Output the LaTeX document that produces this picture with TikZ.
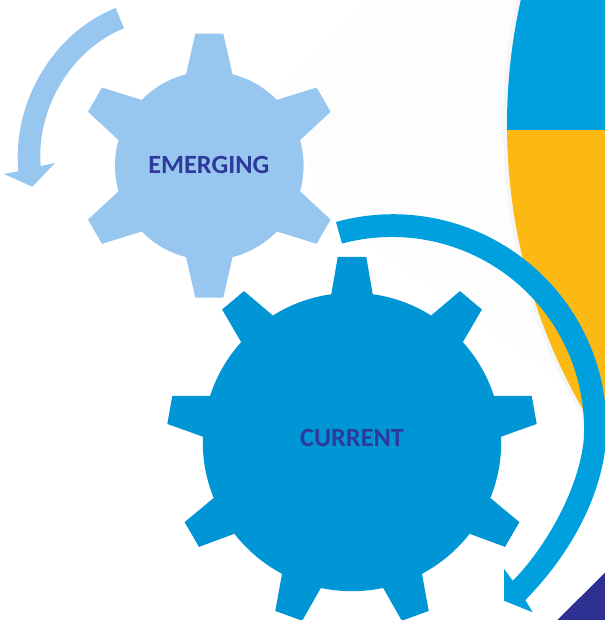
\documentclass[tikz,border=0pt]{standalone}
\usepackage{fontspec}
\setmainfont{Carlito}
\definecolor{lightgear}{HTML}{97C6EF}
\definecolor{darkgear}{HTML}{0095D5}
\definecolor{bluearrow}{HTML}{00A0DF}
\definecolor{yellowdisc}{HTML}{FDB913}
\definecolor{navy}{HTML}{2E3192}
\definecolor{labelblue}{HTML}{2E3A9B}
\definecolor{faintgrey}{HTML}{FDFDFD}
\definecolor{halogrey}{HTML}{F6F6F6}

\begin{document}
\begin{tikzpicture}[
    x=0.75pt, y=0.75pt,
    emergingbody/.style={circle, draw=none, fill=lightgear, inner sep=0pt, minimum size=141.45pt},
    currentbody/.style={circle, draw=none, fill=darkgear, inner sep=0pt, minimum size=223.8pt},
    gearlabel/.style={rectangle, draw=none, inner sep=0pt, text=labelblue, font=\bfseries\fontsize{19.7}{22}\selectfont},
    emergingtooth/.style={fill=lightgear, shift={(209.3,454.3)}},
    currenttooth/.style={fill=darkgear, shift={(352,178)}}
]

\useasboundingbox (0,0) rectangle (605,620);
\clip (0,0) rectangle (605,620);

\fill [faintgrey] (370,620) -- (275,523) -- (330,410) -- (367,378) -- (560,240) -- (605,240) -- (605,620) -- cycle;
\draw [halogrey, line width=6pt] (1077,495) circle (570);
\begin{scope}
    \clip (1077,495) circle (570);
    \fill [bluearrow] (500,490) rectangle (605,620);
    \fill [yellowdisc] (500,0) rectangle (605,490);
\end{scope}
\fill [navy] (557.3,0) -- (605,47.3) -- (605,0) -- cycle;

\foreach \a in {0,60,...,300}
    \fill [emergingtooth, rotate=\a] (-23.3,91) -- (-14,132) -- (14,132) -- (23.3,91) -- cycle;
\node [emergingbody] (emerging) at (209.3,454.3) {};
\node [gearlabel] (emerginglabel) at (208.8,455) {EMERGING};

\foreach \a in {0,40,...,320}
    \fill [currenttooth, rotate=\a] (-20.7,147.7) -- (-14.3,185) -- (14.3,185) -- (20.7,147.7) -- cycle;
\node [currentbody] (current) at (352,178) {};
\node [gearlabel] (currentlabel) at (352,182.2) {CURRENT};

\fill [lightgear] (115.7,612) .. controls (55,588) and (12,520) .. (18.3,448.7)
    -- (4,446) -- (32.3,433.3) -- (55,457) -- (40.7,454)
    .. controls (36,510) and (70,570) .. (124,591.7) -- cycle;

\fill [bluearrow] (336,398) arc [start angle=105.5, end angle=-2, radius=213.5]
    .. controls (603,120) and (565,60) .. (525.3,20)
    -- (532.7,7.7) -- (504,19.3) -- (504,51.3) -- (512.7,39.3)
    .. controls (540,66) and (578,125) .. (583.7,180)
    arc [start angle=-3.3, end angle=105.1, radius=192] -- cycle;

\end{tikzpicture}
\end{document}
